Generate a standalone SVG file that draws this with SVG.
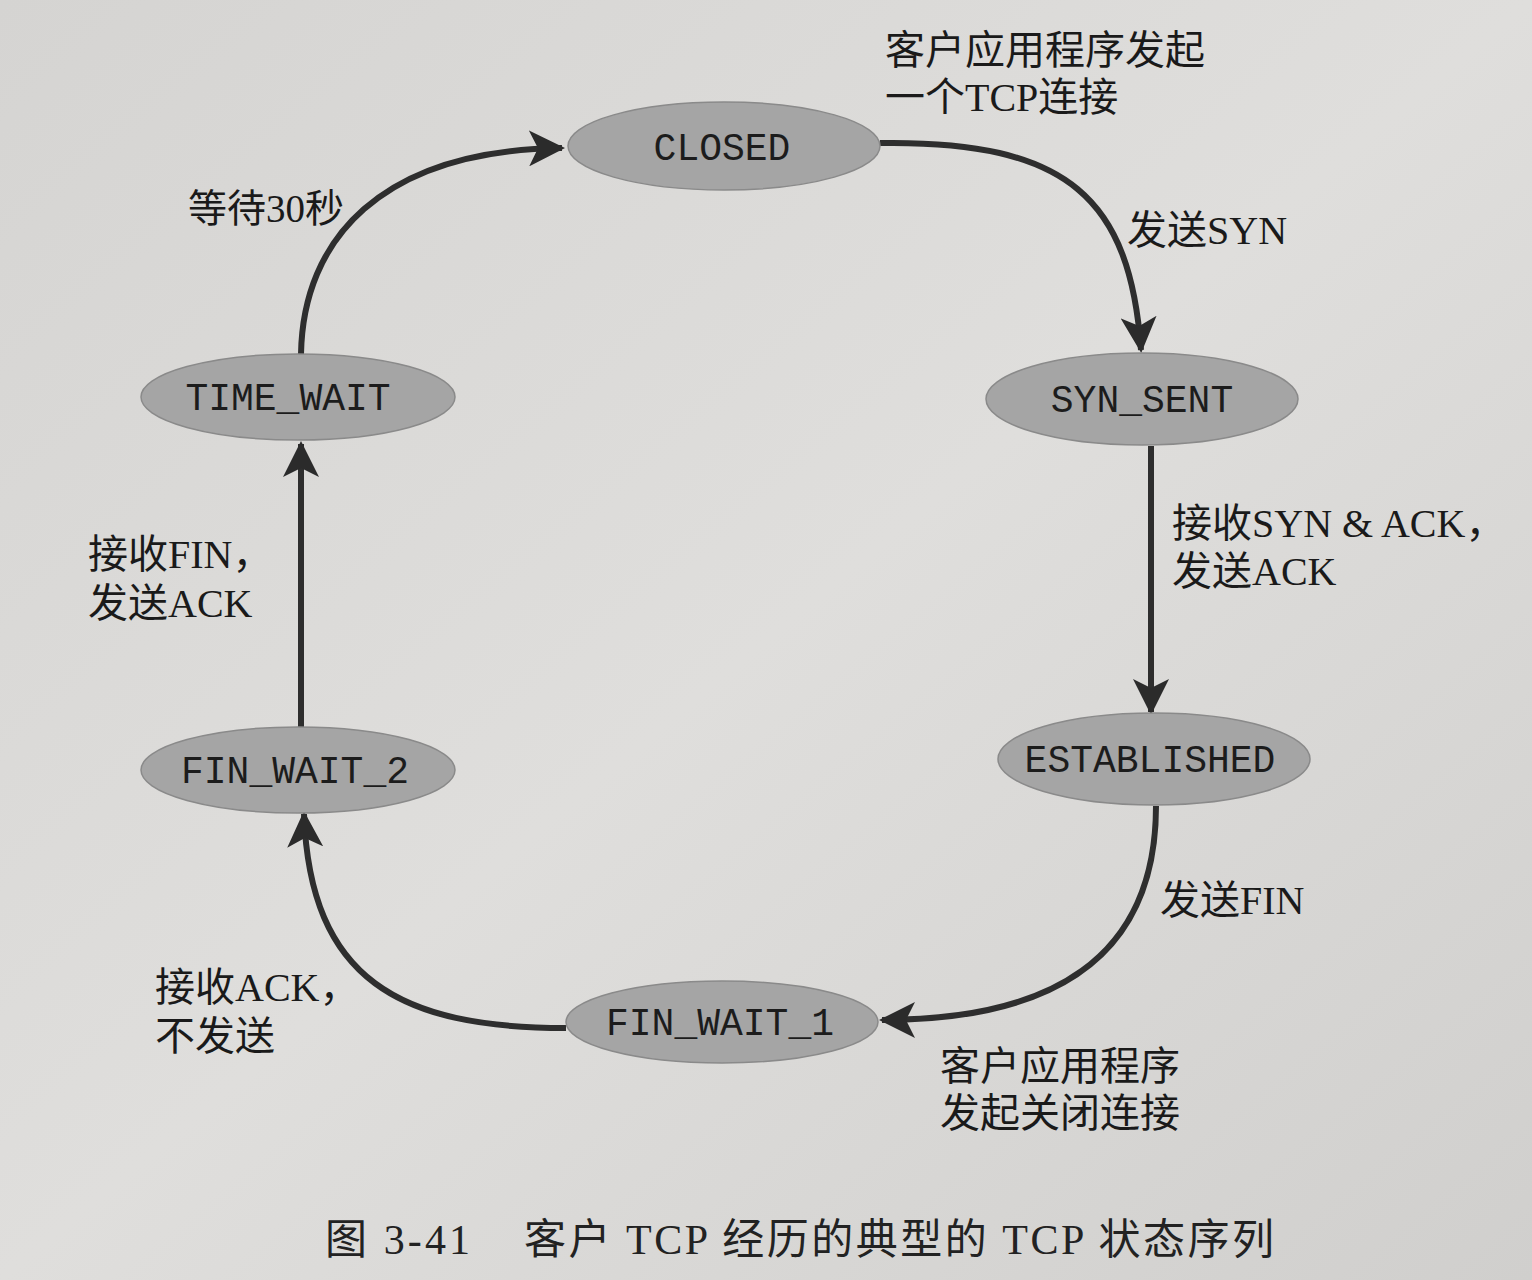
<svg xmlns="http://www.w3.org/2000/svg" width="1532" height="1280" viewBox="0 0 1532 1280">
<defs>
<linearGradient id="bg" x1="0" y1="0" x2="1" y2="1">
<stop offset="0" stop-color="#d5d4d2"/>
<stop offset="0.5" stop-color="#dfdedc"/>
<stop offset="1" stop-color="#d0cfcd"/>
</linearGradient>
<marker id="arr" viewBox="0 0 12 12" refX="11" refY="6" markerWidth="6" markerHeight="6" orient="auto" markerUnits="strokeWidth">
<path d="M0,0 L12,6 L0,12 L3,6 Z" fill="#2b2b2b"/>
</marker>
<style>
.st{fill:#a5a5a5;stroke:#8a8a8a;stroke-width:1.5}
.sl{font-family:"Liberation Mono","DejaVu Sans Mono",monospace;font-size:38px;fill:#1c1c1c;text-anchor:middle}
.lb{font-family:"Liberation Serif","Noto Sans CJK SC",serif;font-size:40px;fill:#1a1a1a}
.cn{fill:none;stroke:#2e2e2e;stroke-width:6;marker-end:url(#arr)}
.cap{font-family:"Liberation Serif","Noto Sans CJK SC",serif;font-size:42px;fill:#222}
</style>
</defs>
<rect width="1532" height="1280" fill="url(#bg)"/>
<g id="connectors">
<path class="cn" d="M880,143 C1070,140 1130,200 1141,350"/>
<path class="cn" d="M1151,446 L1151,712"/>
<path class="cn" d="M1156,806 C1156,960 1050,1020 882,1020"/>
<path class="cn" d="M566,1028 C400,1028 310,980 304,814"/>
<path class="cn" d="M301,727 L301,444"/>
<path class="cn" d="M301,354 C303,240 380,150 562,148"/>
</g>
<g id="closed"><ellipse class="st" cx="724" cy="146" rx="156" ry="44"/><text class="sl" x="722" y="160">CLOSED</text></g>
<g id="syn_sent"><ellipse class="st" cx="1142" cy="399" rx="156" ry="46"/><text class="sl" x="1142" y="412">SYN_SENT</text></g>
<g id="established"><ellipse class="st" cx="1154" cy="759" rx="156" ry="46"/><text class="sl" x="1150" y="772">ESTABLISHED</text></g>
<g id="fin_wait_1"><ellipse class="st" cx="722" cy="1022" rx="156" ry="41"/><text class="sl" x="720" y="1035">FIN_WAIT_1</text></g>
<g id="fin_wait_2"><ellipse class="st" cx="298" cy="770" rx="157" ry="43"/><text class="sl" x="295" y="783">FIN_WAIT_2</text></g>
<g id="time_wait"><ellipse class="st" cx="298" cy="397" rx="157" ry="43"/><text class="sl" x="288" y="410">TIME_WAIT</text></g>
<g id="labels">
<text class="lb" x="885" y="64">客户应用程序发起</text>
<text class="lb" x="885" y="111">一个TCP连接</text>
<text class="lb" x="1127" y="244">发送SYN</text>
<text class="lb" x="1172" y="537">接收SYN &amp; ACK，</text>
<text class="lb" x="1172" y="585">发送ACK</text>
<text class="lb" x="1160" y="914">发送FIN</text>
<text class="lb" x="940" y="1080">客户应用程序</text>
<text class="lb" x="940" y="1127">发起关闭连接</text>
<text class="lb" x="155" y="1001">接收ACK，</text>
<text class="lb" x="155" y="1050">不发送</text>
<text class="lb" x="88" y="568">接收FIN，</text>
<text class="lb" x="88" y="617">发送ACK</text>
<text class="lb" x="188" y="222" style="font-size:39px">等待30秒</text>
</g>
<g id="caption">
<text class="cap" x="325" y="1254" textLength="145" lengthAdjust="spacing">图 3-41</text>
<text class="cap" x="524" y="1254" textLength="750" lengthAdjust="spacing">客户 TCP 经历的典型的 TCP 状态序列</text>
</g>
</svg>
